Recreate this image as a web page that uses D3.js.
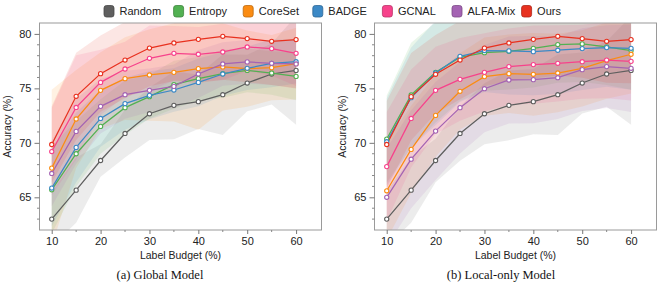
<!DOCTYPE html>
<html><head><meta charset="utf-8">
<script src="https://cdn.jsdelivr.net/npm/d3@7"></script>
<style>body{margin:0;background:#fff}svg{display:block}</style>
</head><body>
<svg id="c" width="664" height="283"></svg>
<script>
const budgets = [10,15,20,25,30,35,40,45,50,55,60];
const methods = ["Random","Entropy","CoreSet","BADGE","GCNAL","ALFA-Mix","Ours"];
const colors = ["#5f5f5f","#52b152","#fb8c12","#3c89c6","#f7428b","#a463b3","#e8311f"];
const yTicks = [65,70,75,80];
const xTicks = [10,20,30,40,50,60];
const panelTitles = ["(a) Global Model","(b) Local-only Model"];

// Global model means
const gRandom  = [63.0,65.66,68.38,70.86,72.67,73.44,73.78,74.42,75.49,76.32,76.65];
const gEntropy = [65.69,69.0,71.51,73.23,74.24,75.34,75.89,76.35,76.65,76.41,76.10];
const gCoreSet = [67.68,72.19,74.82,75.89,76.23,76.47,76.81,76.97,76.81,76.90,77.27];
const gBADGE   = [65.85,69.58,72.24,73.6,74.36,74.85,75.55,76.32,76.84,77.30,77.45];
const gGCNAL   = [69.2,73.25,75.55,76.78,77.76,78.22,78.13,78.34,78.8,78.65,78.22];
const gALFA    = [67.19,71.05,73.35,74.42,74.82,75.18,76.32,77.24,77.43,77.30,77.24];
const gOurs    = [69.85,74.27,76.35,77.6,78.7,79.17,79.5,79.78,79.57,79.32,79.48];
// Global model spread
const gsRandom  = [2.5,3.0,1.5,2.2,2.4,3.1,2.5,3.7,2.6,2.8,5.0];
const gsEntropy = [4.0,3.0,2.5,2.5,2.0,2.2,2.0,2.2,2.0,2.0,2.2];
const gsCoreSet = [7.2,4.5,3.5,3.8,4.2,4.5,5.6,4.0,3.5,3.0,3.3];
const gsBADGE   = [3.5,3.2,2.6,2.4,2.2,2.0,2.2,2.0,2.0,2.2,2.0];
const gsGCNAL   = [4.0,4.8,3.0,2.5,3.0,2.5,2.5,2.6,2.2,2.5,3.0];
const gsALFA    = [3.0,3.0,2.5,2.2,2.0,2.0,2.2,2.0,2.0,2.0,2.2];
const gsOurs    = [3.5,4.0,3.5,3.5,3.5,3.5,4.0,4.0,4.0,4.0,4.5];

// Local-only model means
const lRandom  = [63.0,65.66,68.38,70.86,72.67,73.44,73.78,74.42,75.49,76.32,76.65];
const lEntropy = [70.35,74.39,76.47,77.85,78.28,78.40,78.68,79.02,79.08,78.8,78.47];
const lCoreSet = [65.6,69.4,72.52,74.73,76.08,76.35,76.29,76.41,76.84,77.55,78.13];
const lBADGE   = [70.1,74.15,76.41,77.94,78.47,78.44,78.37,78.5,78.65,78.74,78.68];
const lGCNAL   = [67.82,72.24,74.82,75.83,76.47,77.0,77.18,77.3,77.45,77.6,77.48];
const lALFA    = [65.0,68.5,71.08,73.23,74.97,75.77,75.8,75.98,76.72,77.0,76.84];
const lOurs    = [69.85,74.24,76.29,77.6,78.7,79.17,79.5,79.78,79.57,79.32,79.48];
// Local-only model spread
const lsRandom  = [2.5,3.0,2.0,2.5,2.8,3.2,3.0,3.7,2.8,3.0,5.0];
const lsEntropy = [4.0,4.8,4.6,4.0,3.5,3.5,3.6,3.5,3.5,3.5,3.6];
const lsCoreSet = [4.5,4.0,3.8,3.5,3.6,3.6,3.8,3.6,3.5,3.5,3.6];
const lsBADGE   = [4.0,4.6,4.8,4.2,3.8,4.0,4.0,4.0,3.8,3.6,3.8];
const lsGCNAL   = [5.0,4.5,4.0,3.8,3.6,3.5,3.6,3.5,3.4,3.5,3.6];
const lsALFA    = [4.5,4.5,4.5,4.2,4.0,4.0,4.0,3.8,3.8,3.8,4.0];
const lsOurs    = [4.0,4.0,3.6,3.6,3.5,3.5,3.6,3.6,3.6,3.8,4.0];

const panels = [
  {means:[gRandom,gEntropy,gCoreSet,gBADGE,gGCNAL,gALFA,gOurs],
   sds:[gsRandom,gsEntropy,gsCoreSet,gsBADGE,gsGCNAL,gsALFA,gsOurs], x0:39.5, capX:160},
  {means:[lRandom,lEntropy,lCoreSet,lBADGE,lGCNAL,lALFA,lOurs],
   sds:[lsRandom,lsEntropy,lsCoreSet,lsBADGE,lsGCNAL,lsALFA,lsOurs], x0:374.5, capX:501}
];

const svg = d3.select("#c");
const W = 282, plotTop = 23, plotBottom = 230;
const font = "'Liberation Sans', Arial, Helvetica, sans-serif";

panels.forEach((p, pi) => {
  const x = d3.scaleLinear().domain([7.5,65.2]).range([p.x0, p.x0 + W]);
  const y = d3.scaleLinear().domain([62,81]).range([plotBottom, plotTop]);
  const g = svg.append("g");
  const clipId = "clip" + pi;
  svg.append("clipPath").attr("id", clipId).append("rect")
    .attr("x", p.x0).attr("y", plotTop).attr("width", W).attr("height", plotBottom - plotTop);
  const plot = g.append("g").attr("clip-path", `url(#${clipId})`);

  // bands
  methods.forEach((m, i) => {
    const area = d3.area()
      .x((d, j) => x(budgets[j]))
      .y0((d, j) => y(d - p.sds[i][j]))
      .y1((d, j) => y(d + p.sds[i][j]));
    plot.append("path").datum(p.means[i]).attr("d", area)
      .attr("fill", colors[i]).attr("fill-opacity", 0.12).attr("stroke", "none");
  });
  // lines
  methods.forEach((m, i) => {
    const line = d3.line().x((d, j) => x(budgets[j])).y(d => y(d));
    plot.append("path").datum(p.means[i]).attr("d", line)
      .attr("fill", "none").attr("stroke", colors[i]).attr("stroke-width", 1.25);
  });
  methods.forEach((m, i) => {
    plot.selectAll(null).data(p.means[i]).enter().append("circle")
      .attr("cx", (d, j) => x(budgets[j])).attr("cy", d => y(d)).attr("r", 2.1)
      .attr("fill", "#fff").attr("stroke", colors[i]).attr("stroke-width", 1.1);
  });

  // frame
  g.append("rect").attr("x", p.x0).attr("y", plotTop).attr("width", W).attr("height", plotBottom - plotTop)
    .attr("fill", "none").attr("stroke", "#9a9a9a").attr("stroke-width", 1);

  // y axis
  const yAx = d3.axisLeft(y).tickValues(yTicks).tickSize(5).tickPadding(3);
  const ya = g.append("g").attr("transform", `translate(${p.x0},0)`).call(yAx);
  ya.select(".domain").remove();
  ya.selectAll(".tick line").attr("stroke", "#777");
  ya.selectAll(".tick text").attr("font-family", font).attr("font-size", 11).attr("fill", "#222");
  const yMinor = d3.range(63, 81).filter(v => !yTicks.includes(v));
  g.append("g").selectAll("line").data(yMinor).enter().append("line")
    .attr("x1", p.x0 - 2.5).attr("x2", p.x0).attr("y1", d => y(d)).attr("y2", d => y(d))
    .attr("stroke", "#888");

  // x axis
  const xAx = d3.axisBottom(x).tickValues(xTicks).tickSize(4).tickPadding(3);
  const xa = g.append("g").attr("transform", `translate(0,${plotBottom})`).call(xAx);
  xa.select(".domain").remove();
  xa.selectAll(".tick line").attr("stroke", "#777");
  xa.selectAll(".tick text").attr("font-family", font).attr("font-size", 11).attr("fill", "#222");
  const xMinor = [15,25,35,45,55];
  g.append("g").selectAll("line").data(xMinor).enter().append("line")
    .attr("x1", d => x(d)).attr("x2", d => x(d)).attr("y1", plotBottom).attr("y2", plotBottom + 2)
    .attr("stroke", "#888");

  // labels
  g.append("text").attr("x", p.x0 + W / 2).attr("y", 259).attr("text-anchor", "middle")
    .attr("font-family", font).attr("font-size", 10.5).attr("fill", "#222").text("Label Budget (%)");
  g.append("text").attr("transform", `translate(${p.x0 - 29},${(plotTop + plotBottom) / 2}) rotate(-90)`)
    .attr("text-anchor", "middle").attr("font-family", font).attr("font-size", 10.5)
    .attr("fill", "#222").text("Accuracy (%)");
  g.append("text").attr("x", p.capX).attr("y", 279).attr("text-anchor", "middle")
    .attr("font-family", "'Liberation Serif', 'Times New Roman', serif").attr("font-size", 12.5)
    .attr("fill", "#111").text(panelTitles[pi]);
});

// legend
const lg = svg.append("g");
methods.forEach((m, i) => {
  const lx = 104 + i * 69.6;
  lg.append("rect").attr("x", lx).attr("y", 5.5).attr("width", 10).attr("height", 11.5)
    .attr("rx", 2.5).attr("fill", colors[i]).attr("stroke", d3.color(colors[i]).darker(0.8)).attr("stroke-width", 0.8);
  lg.append("text").attr("x", lx + 15.5).attr("y", 15).attr("font-family", font)
    .attr("font-size", 11).attr("fill", "#222").text(m);
});
</script>
</body></html>
